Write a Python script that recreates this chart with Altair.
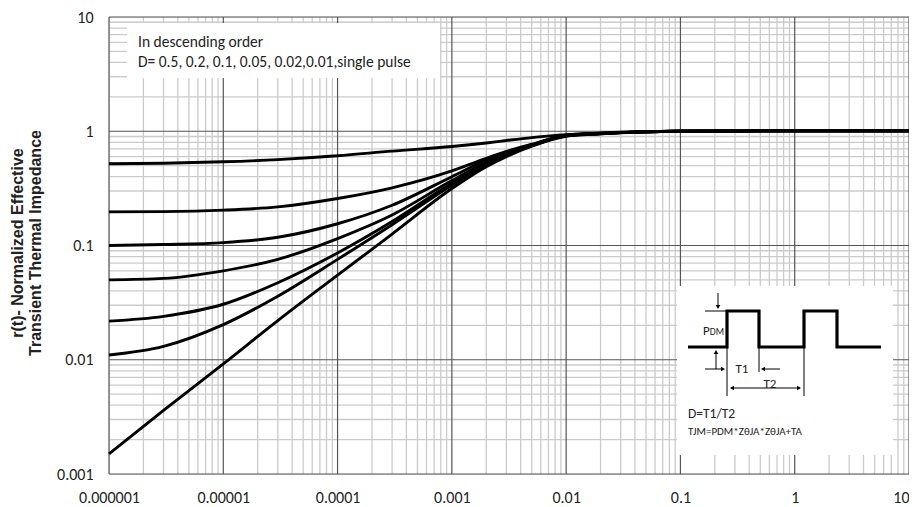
import altair as alt
import pandas as pd

# ---------------- data ----------------
t = [1e-6, 3e-6, 1e-5, 3e-5, 1e-4, 3e-4, 1e-3, 2e-3, 3e-3, 5e-3, 1e-2, 2e-2, 3e-2, 5e-2, 1e-1, 1, 10]
series = ["D=0.5", "D=0.2", "D=0.1", "D=0.05", "D=0.02", "D=0.01", "single pulse"]
r_05 = [0.52, 0.525, 0.54, 0.565, 0.61, 0.67, 0.735, 0.79, 0.83, 0.88, 0.935, 0.965, 0.98, 0.99, 1.0, 1.01, 1.01]
r_02 = [0.197, 0.198, 0.204, 0.218, 0.258, 0.32, 0.45, 0.58, 0.665, 0.77, 0.925, 0.958, 0.975, 0.99, 1.0, 1.01, 1.01]
r_01 = [0.1, 0.102, 0.106, 0.118, 0.155, 0.225, 0.40, 0.56, 0.65, 0.76, 0.92, 0.956, 0.974, 0.99, 1.0, 1.01, 1.01]
r_005 = [0.05, 0.0515, 0.06, 0.0756, 0.115, 0.185, 0.37, 0.535, 0.635, 0.755, 0.915, 0.955, 0.973, 0.99, 1.0, 1.01, 1.01]
r_002 = [0.0218, 0.024, 0.0306, 0.0472, 0.086, 0.162, 0.35, 0.515, 0.62, 0.75, 0.91, 0.953, 0.972, 0.99, 1.0, 1.01, 1.01]
r_001 = [0.011, 0.0131, 0.0203, 0.036, 0.0756, 0.152, 0.337, 0.505, 0.615, 0.745, 0.91, 0.952, 0.972, 0.99, 1.0, 1.01, 1.01]
r_sp = [0.0015, 0.0036, 0.0092, 0.022, 0.055, 0.126, 0.315, 0.49, 0.60, 0.74, 0.905, 0.95, 0.971, 0.99, 1.0, 1.01, 1.01]
values = [r_05, r_02, r_01, r_005, r_002, r_001, r_sp]

x_major = [1e-6, 1e-5, 1e-4, 1e-3, 1e-2, 1e-1, 1, 10]
y_major = [0.001, 0.01, 0.1, 1, 10]
mults = [2, 3, 4, 5, 6, 7, 8, 9]
x_minor = [d * m for d in x_major[:-1] for m in mults]
y_minor = [d * m for d in y_major[:-1] for m in mults]

legend_lines = ["In descending order", "D= 0.5, 0.2, 0.1, 0.05, 0.02,0.01,single pulse"]
y_title = ["r(t)- Normalized Effective", "Transient Thermal Impedance"]

rows = []
for name, vals in zip(series, values):
    for i, (tx, rv) in enumerate(zip(t, vals)):
        rows.append({"series": name, "t": tx, "r": rv, "o": i})
df = pd.DataFrame(rows)

FONT = "Carlito, Calibri, Lato, sans-serif"
W, H = 800, 457

xs = alt.Scale(type="log", domain=[1e-6, 10], nice=False)
ys = alt.Scale(type="log", domain=[0.001, 10], nice=False)
x_axis = alt.Axis(values=x_major, format=".6~f", grid=False, ticks=False, domain=False,
                  labelFlush=False, labelOverlap=False, labelFont=FONT, labelFontSize=16,
                  labelColor="#222", labelPadding=15, title=None,
                  labelAlign={"condition": {"test": "datum.value >= 10", "value": "right"},
                              "value": "center"})
y_axis = alt.Axis(values=y_major, format=".3~f", grid=False, ticks=False, domain=False,
                  labelOverlap=False, labelFont=FONT, labelFontSize=16, labelColor="#222",
                  labelPadding=16, title=y_title, titleFont="Liberation Sans",
                  titleFontSize=16, titleFontWeight="bold", titleColor="#222",
                  titleAngle=270, titleX=-91.5, titleY=H / 2 - 3, titleAlign="center",
                  titleBaseline="middle", titleLineHeight=17.5)

vminor = alt.Chart(pd.DataFrame({"t": x_minor})).mark_rule(color="#cbcbcb", strokeWidth=1.3).encode(
    x=alt.X("t:Q", scale=xs, axis=x_axis))
hminor = alt.Chart(pd.DataFrame({"r": y_minor})).mark_rule(color="#cbcbcb", strokeWidth=1.3).encode(
    y=alt.Y("r:Q", scale=ys, axis=y_axis))
vmajor = alt.Chart(pd.DataFrame({"t": x_major})).mark_rule(color="#555555", strokeWidth=1.2).encode(
    x=alt.X("t:Q", scale=xs, axis=x_axis))
hmajor = alt.Chart(pd.DataFrame({"r": y_major})).mark_rule(color="#555555", strokeWidth=1.2).encode(
    y=alt.Y("r:Q", scale=ys, axis=y_axis))

curves = alt.Chart(df).mark_line(color="black", strokeWidth=2.9, interpolate="monotone").encode(
    x=alt.X("t:Q", scale=xs, axis=x_axis),
    y=alt.Y("r:Q", scale=ys, axis=y_axis),
    detail="series:N",
    order="o:Q",
)

# white boxes (legend note and inset)
legend_box = alt.Chart(pd.DataFrame({"a": [0]})).mark_rect(color="white").encode(
    x=alt.value(18), x2=alt.value(331), y=alt.value(6), y2=alt.value(61))
inset_box = alt.Chart(pd.DataFrame({"a": [0]})).mark_rect(color="white").encode(
    x=alt.value(568), x2=alt.value(784), y=alt.value(269), y2=alt.value(438))

legend_text = alt.Chart(pd.DataFrame({"s": legend_lines, "yy": [30.3, 49.7]})).mark_text(
    align="left", baseline="alphabetic", font=FONT, fontSize=15.5, color="#222").encode(
    x=alt.value(29), y=alt.Y("yy:Q", scale=None), text="s:N")

# inset schematic (pixel coordinates inside the plot area)
pulse = pd.DataFrame({
    "px": [579, 618, 618, 650, 650, 695, 695, 728, 728, 772],
    "py": [330, 330, 294, 294, 330, 330, 294, 294, 330, 330],
    "o": list(range(10)),
})
pulse_line = alt.Chart(pulse).mark_line(color="black", strokeWidth=3.2, strokeJoin="miter").encode(
    x=alt.X("px:Q", scale=None), y=alt.Y("py:Q", scale=None), order="o:Q")

segs = pd.DataFrame({
    "x1": [596, 609, 607, 596, 671, 618, 650, 695, 622],
    "y1": [294, 276, 352, 352, 352, 330, 330, 330, 371],
    "x2": [618, 609, 607, 613, 655, 618, 650, 695, 691],
    "y2": [294, 289, 336, 352, 352, 379, 355, 379, 371],
})
seg_rules = alt.Chart(segs).mark_rule(color="black", strokeWidth=1).encode(
    x=alt.X("x1:Q", scale=None), y=alt.Y("y1:Q", scale=None),
    x2="x2:Q", y2="y2:Q")

heads = pd.DataFrame({
    "hx": [609, 607, 614, 654, 623, 690],
    "hy": [290, 335, 352, 352, 371, 371],
    "shape": ["triangle-down", "triangle-up", "triangle-right", "triangle-left", "triangle-left", "triangle-right"],
})
head_marks = alt.Chart(heads).mark_point(filled=True, color="black", size=22, opacity=1).encode(
    x=alt.X("hx:Q", scale=None), y=alt.Y("hy:Q", scale=None),
    shape=alt.Shape("shape:N", scale=None))

inset_txt = pd.DataFrame({
    "s": ["P", "DM", "T1", "T2", "D=T1/T2", "TJM=PDM*ZθJA*ZθJA+TA"],
    "tx": [594, 600.8, 633, 661, 579, 579],
    "ty": [318, 318, 356.3, 370.5, 400.5, 418],
    "fs": [13, 9.7, 13, 13, 13.5, 11],
    "al": ["left", "left", "center", "center", "left", "left"],
})
inset_text_l = alt.Chart(inset_txt[inset_txt["al"] == "left"]).mark_text(
    align="left", baseline="alphabetic", font=FONT, color="#222").encode(
    x=alt.X("tx:Q", scale=None), y=alt.Y("ty:Q", scale=None), text="s:N",
    size=alt.Size("fs:Q", scale=None, legend=None))
inset_text_c = alt.Chart(inset_txt[inset_txt["al"] == "center"]).mark_text(
    align="center", baseline="alphabetic", font=FONT, color="#222").encode(
    x=alt.X("tx:Q", scale=None), y=alt.Y("ty:Q", scale=None), text="s:N",
    size=alt.Size("fs:Q", scale=None, legend=None))

chart = alt.layer(
    vminor, hminor, vmajor, hmajor, legend_box, inset_box, curves, legend_text,
    pulse_line, seg_rules, head_marks, inset_text_l, inset_text_c,
).properties(
    width=W, height=H,
    autosize=alt.AutoSizeParams(type="none"),
    padding={"left": 101, "top": 9, "right": 0, "bottom": 36},
).configure_view(stroke="black", strokeWidth=2).configure(background="white")

chart.save("out.html", embed_options={"renderer": "svg", "actions": False})
